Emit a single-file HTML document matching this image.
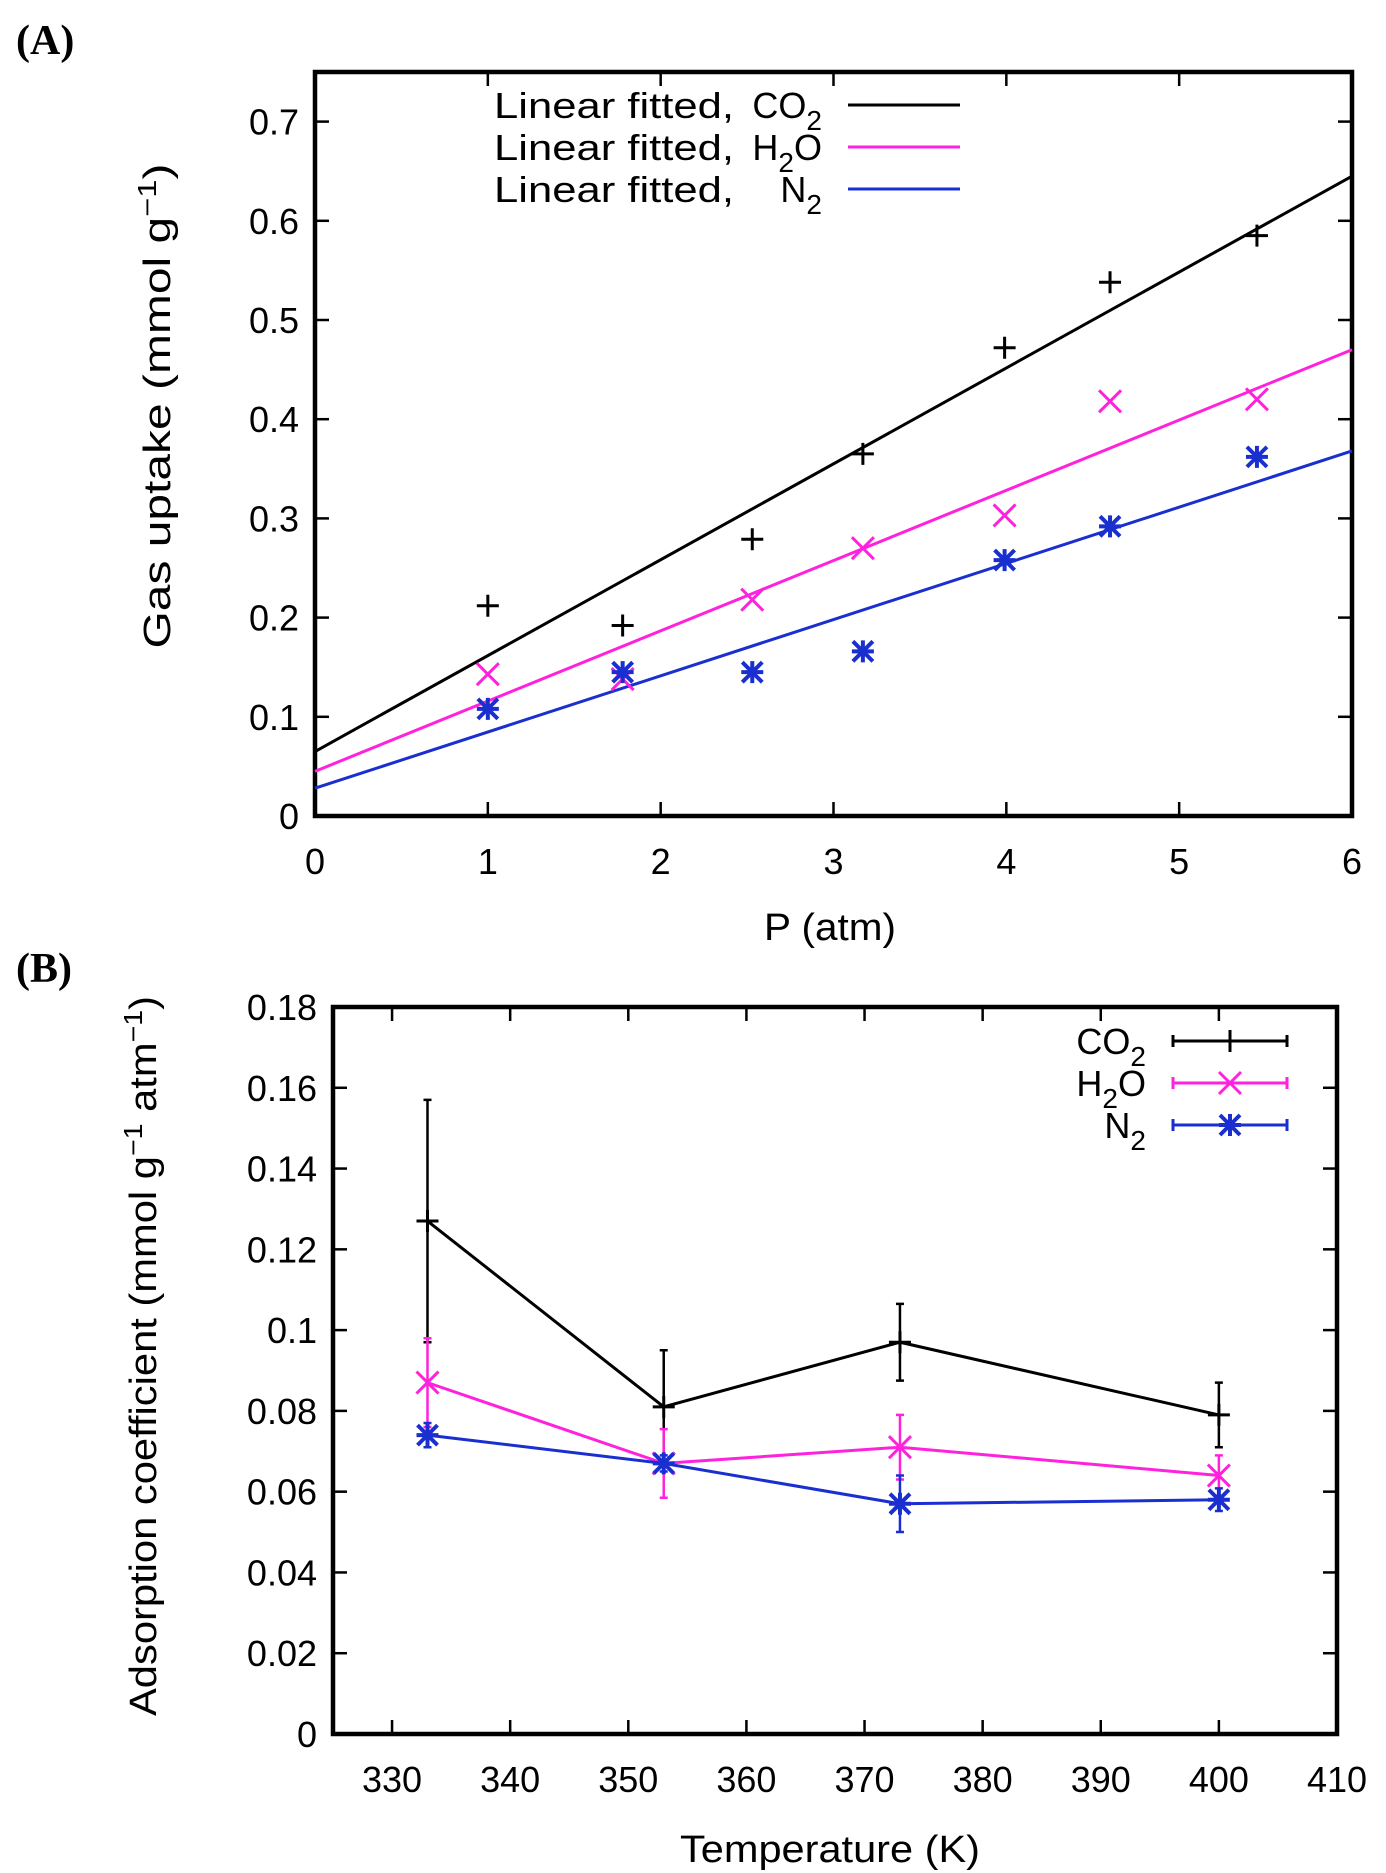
<!DOCTYPE html>
<html><head><meta charset="utf-8"><style>
html,body{margin:0;padding:0;background:#fff}
svg{display:block;font-family:"Liberation Sans",sans-serif}
</style></head><body>
<svg id="c" width="1386" height="1873" viewBox="0 0 1386 1873">
<text x="16" y="54" font-family="Liberation Serif" font-weight="bold" font-size="42">(A)</text>
<text x="16" y="982" font-family="Liberation Serif" font-weight="bold" font-size="42">(B)</text>
</svg>
<script>
// Panel A data
const aPressure = [1, 1.78, 2.53, 3.17, 3.99, 4.6, 5.45];
const aCO2 = [0.212, 0.192, 0.279, 0.365, 0.472, 0.538, 0.585];
const aH2O = [0.143, 0.138, 0.218, 0.27, 0.303, 0.418, 0.42];
const aN2 = [0.108, 0.145, 0.145, 0.166, 0.258, 0.292, 0.362];
const aFitCO2 = [0.065, 0.645];
const aFitH2O = [0.045, 0.47];
const aFitN2 = [0.028, 0.368];
const aXTicks = [0, 1, 2, 3, 4, 5, 6];
const aYTicks = [0, 0.1, 0.2, 0.3, 0.4, 0.5, 0.6, 0.7];
// Panel B data
const bTemp = [333, 353, 373, 400];
const bCO2 = [0.127, 0.081, 0.097, 0.079];
const bCO2Err = [0.030, 0.014, 0.0095, 0.008];
const bH2O = [0.087, 0.067, 0.071, 0.064];
const bH2OErr = [0.011, 0.0085, 0.008, 0.005];
const bN2 = [0.074, 0.067, 0.057, 0.058];
const bN2Err = [0.003, 0.002, 0.007, 0.0028];
const bXTicks = [330, 340, 350, 360, 370, 380, 390, 400, 410];
const bYTicks = [0, 0.02, 0.04, 0.06, 0.08, 0.1, 0.12, 0.14, 0.16, 0.18];

const NS = 'http://www.w3.org/2000/svg';
const svg = document.getElementById('c');
function mk(tag, attrs, parent) {
  const e = document.createElementNS(NS, tag);
  for (const k in attrs) e.setAttribute(k, attrs[k]);
  (parent || svg).appendChild(e);
  return e;
}
const BLACK = '#000', MAG = '#ff22dd', BLUE = '#1a2fd0';
const TFS = 36;

function axes(P, xt, yt, fmtY, prefix) {
  const g = mk('g', {});
  
  
  xt.forEach(v => {
    const x = P.sx(v);
    mk('line', {x1: x, x2: x, y1: P.b, y2: P.b - 14, stroke: '#000', 'stroke-width': 2.5}, g);
    mk('line', {x1: x, x2: x, y1: P.t, y2: P.t + 14, stroke: '#000', 'stroke-width': 2.5}, g);
    const t = mk('text', {x: x, y: P.b + 58, 'text-anchor': 'middle', 'font-size': TFS}, g);
    t.textContent = v;
    
    
  });
  yt.forEach(v => {
    const y = P.sy(v);
    mk('line', {x1: P.l, x2: P.l + 14, y1: y, y2: y, stroke: '#000', 'stroke-width': 2.5}, g);
    mk('line', {x1: P.r, x2: P.r - 14, y1: y, y2: y, stroke: '#000', 'stroke-width': 2.5}, g);
    const t = mk('text', {x: P.l - 16, y: y + 13, 'text-anchor': 'end', 'font-size': TFS}, g);
    t.textContent = fmtY(v);
    
    
  });
  const f = mk('rect', {x: P.l, y: P.t, width: P.r - P.l, height: P.b - P.t, fill: 'none', stroke: '#000', 'stroke-width': 4.5});
  
  
}
function plus(g, x, y, c) {
  mk('path', {d: `M${x-11},${y}H${x+11}M${x},${y-11}V${y+11}`, stroke: c, 'stroke-width': 3, fill: 'none'}, g);
}
function cross(g, x, y, c) {
  mk('path', {d: `M${x-11},${y-11}L${x+11},${y+11}M${x-11},${y+11}L${x+11},${y-11}`, stroke: c, 'stroke-width': 3, fill: 'none'}, g);
}
function star(g, x, y, c) {
  mk('path', {d: `M${x-10},${y-10}L${x+10},${y+10}M${x-10},${y+10}L${x+10},${y-10}M${x},${y-11}V${y+11}M${x-11},${y}H${x+11}`, stroke: c, 'stroke-width': 4, fill: 'none'}, g);
}
function sub(t, main, s, after) {
  const a = mk('tspan', {}, t); a.textContent = main;
  const b = mk('tspan', {dy: 12, 'font-size': 28}, t); b.textContent = s;
  if (after) { const c = mk('tspan', {dy: -12}, t); c.textContent = after; }
}

// ---- Panel A ----
const A = {l: 315, r: 1352, t: 72, b: 816, x0: 0, x1: 6, y0: 0, y1: 0.75};
A.sx = v => A.l + (v - A.x0) / (A.x1 - A.x0) * (A.r - A.l);
A.sy = v => A.b - (v - A.y0) / (A.y1 - A.y0) * (A.b - A.t);
axes(A, aXTicks, aYTicks, v => v === 0 ? '0' : v.toFixed(1), 'panel-a');
[[aFitCO2, BLACK, 'co2'], [aFitH2O, MAG, 'h2o'], [aFitN2, BLUE, 'n2']].forEach(([f, c, n]) => {
  const l = mk('line', {x1: A.sx(0), y1: A.sy(f[0]), x2: A.sx(6), y2: A.sy(f[1]), stroke: c, 'stroke-width': 3});
  
  
});
[[aCO2, BLACK, plus, 'co2'], [aH2O, MAG, cross, 'h2o'], [aN2, BLUE, star, 'n2']].forEach(([d, c, fn, n]) => {
  const g = mk('g', {});
  
  
  d.forEach((v, i) => fn(g, A.sx(aPressure[i]), A.sy(v), c));
});
// legend A
[['CO', '2', '', BLACK, 105], ['H', '2', 'O', MAG, 147], ['N', '2', '', BLUE, 189]].forEach(([m, s, a, c, y], i) => {
  const g = mk('g', {});
  
  
  const t1 = mk('text', {x: 494, y: y + 13, 'font-size': 36, textLength: 240, lengthAdjust: 'spacingAndGlyphs'}, g);
  t1.textContent = 'Linear fitted,';
  const t2 = mk('text', {x: 822, y: y + 13, 'text-anchor': 'end', 'font-size': 36}, g);
  sub(t2, m, s, a);
  mk('line', {x1: 848, x2: 960, y1: y, y2: y, stroke: c, 'stroke-width': 3}, g);
});
let t = mk('text', {x: 830, y: 940, 'text-anchor': 'middle', 'font-size': 38, textLength: 132, lengthAdjust: 'spacingAndGlyphs'});
t.textContent = 'P (atm)';


t = mk('text', {x: 0, y: 0, 'text-anchor': 'middle', 'font-size': 38, transform: 'translate(170,406) rotate(-90)', textLength: 485, lengthAdjust: 'spacingAndGlyphs'});


(function () { const a = mk('tspan', {}, t); a.textContent = 'Gas uptake (mmol g'; const b = mk('tspan', {dy: -14, 'font-size': 26}, t); b.textContent = '\u22121'; const c = mk('tspan', {dy: 14}, t); c.textContent = ')'; })();

// ---- Panel B ----
const B = {l: 333, r: 1337, t: 1007, b: 1734, x0: 325, x1: 410, y0: 0, y1: 0.18};
B.sx = v => B.l + (v - B.x0) / (B.x1 - B.x0) * (B.r - B.l);
B.sy = v => B.b - (v - B.y0) / (B.y1 - B.y0) * (B.b - B.t);
axes(B, bXTicks, bYTicks, v => v === 0 ? '0' : String(+v.toFixed(2)), 'panel-b');
[[bCO2, bCO2Err, BLACK, plus, 'co2'], [bH2O, bH2OErr, MAG, cross, 'h2o'], [bN2, bN2Err, BLUE, star, 'n2']].forEach(([d, e, c, fn, n]) => {
  const g = mk('g', {});
  
  
  mk('polyline', {points: d.map((v, i) => B.sx(bTemp[i]) + ',' + B.sy(v)).join(' '), fill: 'none', stroke: c, 'stroke-width': 3}, g);
  d.forEach((v, i) => {
    const x = B.sx(bTemp[i]), y1 = B.sy(v + e[i]), y2 = B.sy(v - e[i]);
    mk('path', {d: `M${x},${y1}V${y2}M${x-4},${y1}H${x+4}M${x-4},${y2}H${x+4}`, stroke: c, 'stroke-width': 2.5, fill: 'none'}, g);
    fn(g, x, B.sy(v), c);
  });
});
// legend B
[['CO', '2', '', BLACK, plus, 1041], ['H', '2', 'O', MAG, cross, 1083], ['N', '2', '', BLUE, star, 1125]].forEach(([m, s, a, c, fn, y]) => {
  const g = mk('g', {});
  
  
  const tt = mk('text', {x: 1146, y: y + 13, 'text-anchor': 'end', 'font-size': 36}, g);
  sub(tt, m, s, a);
  mk('path', {d: `M1173,${y}H1287M1173,${y-6}V${y+6}M1287,${y-6}V${y+6}`, stroke: c, 'stroke-width': 3, fill: 'none'}, g);
  fn(g, 1230, y, c);
});
t = mk('text', {x: 830, y: 1862, 'text-anchor': 'middle', 'font-size': 38, textLength: 300, lengthAdjust: 'spacingAndGlyphs'});
t.textContent = 'Temperature (K)';


t = mk('text', {x: 0, y: 0, 'text-anchor': 'middle', 'font-size': 38, transform: 'translate(156,1356) rotate(-90)', textLength: 720, lengthAdjust: 'spacingAndGlyphs'});


(function () { const a = mk('tspan', {}, t); a.textContent = 'Adsorption coefficient (mmol g'; const b = mk('tspan', {dy: -14, 'font-size': 26}, t); b.textContent = '\u22121'; const c = mk('tspan', {dy: 14}, t); c.textContent = ' atm'; const d = mk('tspan', {dy: -14, 'font-size': 26}, t); d.textContent = '\u22121'; const e = mk('tspan', {dy: 14}, t); e.textContent = ')'; })();
</script>
</body></html>
